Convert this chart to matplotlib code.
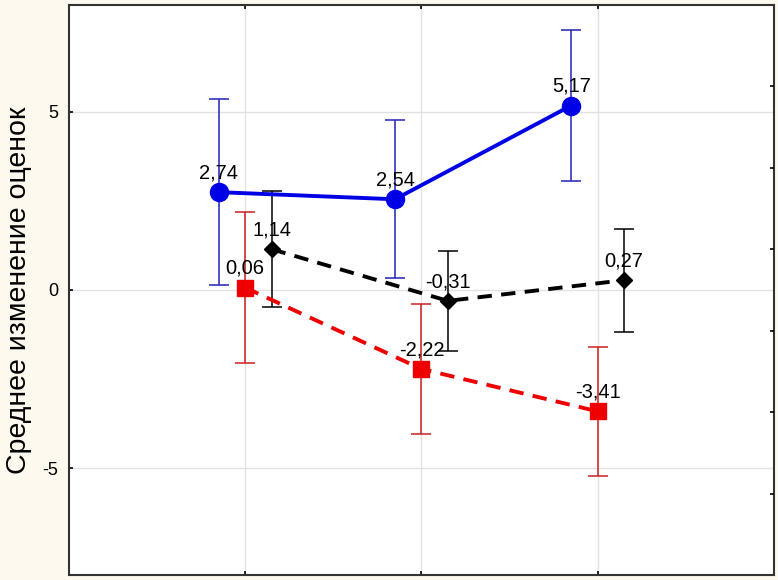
import matplotlib.pyplot as plt
import numpy as np

plt.rcParams['font.family'] = ['Liberation Sans', 'DejaVu Sans']
plt.rcParams['axes.unicode_minus'] = False

groups = [1, 2, 3]

blue_mean = [2.74, 2.54, 5.17]
blue_err = [2.60, 2.22, 2.12]

black_mean = [1.14, -0.31, 0.27]
black_err = [1.63, 1.41, 1.45]

red_mean = [0.06, -2.22, -3.41]
red_err = [2.12, 1.82, 1.82]

y_ticks = [5, 0, -5]


def fmt(v):
    return ('%.2f' % v).replace('.', ',')


fig = plt.figure(figsize=(7.78, 5.8), dpi=100, facecolor='#fdf9ee')
ax = fig.add_axes([0.0887, 0.0086, 0.906, 0.9834])
ax.set_facecolor('white')

x = np.array(groups, dtype=float)

series = [
    (x - 0.15, blue_mean, blue_err, '#0000e6', '#2222bb', '-', 'o', 13),
    (x + 0.15, black_mean, black_err, 'black', 'black', '--', 'D', 8.5),
    (x, red_mean, red_err, '#ee0000', '#cc2020', '--', 's', 11.5),
]

for xs, ys, es, col, ecol, ls, mk, ms in series:
    ax.errorbar(xs, ys, yerr=es, fmt='none', ecolor=ecol, elinewidth=1.1,
                capsize=7.5, capthick=1.1, zorder=2)
    ax.plot(xs, ys, color=col, linestyle=ls, linewidth=2.8, marker=mk,
            markersize=ms, dashes=(3.7, 2.4) if ls == '--' else (None, None),
            zorder=3)
    for xi, yi in zip(xs, ys):
        ax.annotate(fmt(yi), (xi, yi), xytext=(0, 7), textcoords='offset points',
                    ha='center', va='bottom', fontsize=14.5, zorder=4)

ax.set_xlim(0, 4)
ax.set_ylim(-8, 8)
ax.set_xticks(groups)
ax.set_xticklabels([])
ax.set_yticks(y_ticks)
ax.set_yticklabels([str(t) for t in y_ticks], fontsize=13)
ax.grid(True, color='#e2e2e2', linewidth=1)
ax.set_axisbelow(True)
ax.tick_params(axis='both', direction='in', length=3, width=1.2,
               top=True, bottom=True, left=True, right=False, pad=8)
ax.set_ylabel('Среднее изменение оценок', fontsize=20.5)
ax.yaxis.set_label_coords(-0.053, 0.5)
for s in ax.spines.values():
    s.set_color('#333333')
    s.set_linewidth(1.5)

# right-hand scale: ticks only
ax2 = ax.twinx()
ax2.set_ylim(0, 7)
ax2.set_yticks(np.arange(1, 7))
ax2.set_yticklabels([])
ax2.tick_params(axis='y', direction='in', length=3, width=1.2)
for s in ax2.spines.values():
    s.set_visible(False)

fig.savefig('out.png', dpi=100, facecolor=fig.get_facecolor())
